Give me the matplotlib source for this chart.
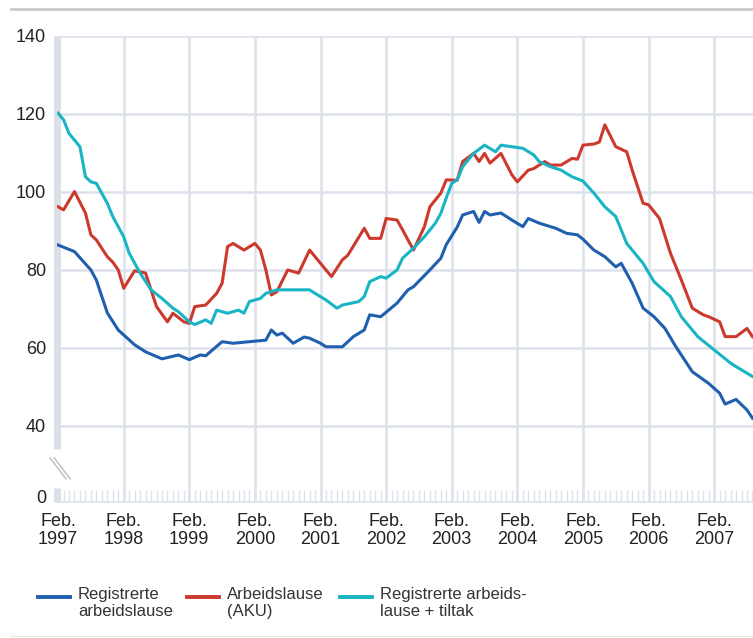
import matplotlib
matplotlib.use("Agg")
import matplotlib.pyplot as plt
from matplotlib.lines import Line2D

plt.rcParams['font.family'] = ['Liberation Sans', 'DejaVu Sans']

# months counted from Feb. 1997
years = list(range(1997, 2008))
tick_labels = ['Feb.\n%d' % y for y in years]

blue_m = [0, 3, 6, 7, 9, 11, 14, 16, 19, 22, 24, 26, 27, 30, 32, 35, 38, 39, 40, 41,
          43, 45, 46, 48, 49, 52, 54, 56, 57, 59, 62, 64, 65, 68, 70, 71, 73, 74, 76, 77,
          78, 79, 81, 83, 85, 86, 88, 91, 93, 95, 96, 98, 100, 102, 103, 105, 107, 109, 111, 113,
          116, 119, 121, 122, 124, 126, 127]
blue_v = [86.4, 84.7, 80, 77.4, 69, 64.6, 60.8, 59, 57.2, 58.2, 57, 58.2, 58, 61.6, 61.2, 61.6, 62, 64.6, 63.3, 63.8,
          61.2, 62.8, 62.5, 61.2, 60.3, 60.3, 62.9, 64.6, 68.5, 68, 71.5, 74.9, 75.7, 80, 83, 86.5, 91, 94.1, 95, 92.2,
          95, 94.1, 94.6, 92.8, 91.1, 93.2, 92, 90.7, 89.4, 89, 87.9, 85.1, 83.4, 80.8, 81.7, 76.6, 70.2, 68, 65, 60.3,
          53.9, 50.9, 48.4, 45.6, 46.8, 44.1, 42]

red_m = [0, 1, 3, 5, 6, 7, 9, 10, 11, 12, 14, 16, 17, 18, 20, 21, 23, 24, 25, 27,
         29, 30, 31, 32, 34, 36, 37, 38, 39, 40, 42, 44, 46, 48, 50, 52, 53, 56, 57, 59,
         60, 62, 63, 65, 67, 68, 70, 71, 73, 74, 76, 77, 78, 79, 81, 83, 84, 86, 87, 89,
         90, 92, 94, 95, 96, 98, 99, 100, 102, 104, 105, 107, 108, 110, 112, 114, 116, 118, 119, 121,
         122, 124, 126, 127]
red_v = [96.2, 95.4, 100.1, 94.6, 89, 87.7, 83.4, 82, 80, 75.3, 79.8, 79.2, 74.9, 70.6, 66.7, 68.9, 66.7, 66.3, 70.6, 71,
         74, 76.6, 86, 86.8, 85.1, 86.8, 85.1, 80, 73.6, 74.4, 80, 79.2, 85.1, 81.7, 78.3, 82.6, 83.8, 90.7, 88.1, 88.1,
         93.2, 92.8, 90.3, 85.1, 91.1, 96.2, 99.7, 103.1, 103, 107.8, 109.9, 107.8, 109.9, 107.4, 109.9, 104.4, 102.6, 105.6, 106, 107.8,
         106.9, 106.9, 108.6, 108.4, 112, 112.3, 112.8, 117.2, 111.6, 110.3, 105.6, 97.1, 96.7, 93.2, 84.3, 77.4, 70.2, 68.5, 68, 66.7,
         62.9, 62.9, 65, 62.9]

cyan_m = [0, 1, 2, 4, 5, 6, 7, 9, 10, 12, 13, 15, 17, 19, 21, 22, 24, 25, 27, 28,
          29, 31, 33, 34, 35, 37, 38, 40, 43, 46, 47, 49, 51, 52, 55, 56, 57, 59, 60, 62,
          63, 65, 67, 69, 70, 71, 72, 73, 74, 76, 78, 80, 81, 83, 85, 87, 88, 90, 92, 94,
          96, 98, 100, 102, 104, 107, 109, 112, 114, 117, 120, 123, 124, 127]
cyan_v = [120.2, 118.5, 115, 111.6, 103.9, 102.6, 102.2, 97.1, 93.7, 88.5, 84.3, 79.2, 74.9, 72.7, 70.2, 69.3, 66.7, 66, 67.2, 66.3,
          69.7, 68.9, 69.7, 68.9, 71.9, 72.7, 74, 74.9, 74.9, 74.9, 74, 72.3, 70.2, 71, 71.9, 73.2, 77, 78.3, 77.9, 80,
          83, 85.6, 88.5, 92, 94.5, 98.5, 102.2, 103.1, 106.5, 109.9, 112, 110.3, 112, 111.6, 111.2, 109.5, 107.8, 106.5, 105.6, 103.9,
          102.8, 99.7, 96.2, 93.7, 86.8, 81.7, 77, 73.2, 68, 62.9, 59.5, 56.1, 55.2, 52.7]

labels = ['Registrerte\narbeidslause', 'Arbeidslause\n(AKU)', 'Registrerte arbeids-\nlause + tiltak']
colors = ['#1f5fae', '#cc3a2e', '#19b5c4']
grid_c = '#dde1ea'

fig = plt.figure(figsize=(7.53, 6.38), dpi=100)
ax = fig.add_axes([57/753, 0.2132, 1 - 57/753, 0.9436 - 0.2132])

for m, v, c in zip([blue_m, red_m, cyan_m], [blue_v, red_v, cyan_v], colors):
    ax.plot(m, v, color=c, lw=2.2, solid_joinstyle='round', zorder=3)

ax.set_xlim(-0.2, 127.1)
ax.set_ylim(20.5, 140)

ax.set_yticks([22, 40, 60, 80, 100, 120, 140])
ax.set_yticklabels(['0', '40', '60', '80', '100', '120', '140'], fontsize=13, color='#222222')
ax.set_xticks([12 * i for i in range(len(years))])
ax.set_xticklabels(tick_labels, fontsize=13, color='#222222', linespacing=1.05)
ax.set_xticks(range(0, 128), minor=True)

ax.tick_params(axis='y', length=0, pad=8)
ax.tick_params(axis='x', which='major', direction='in', length=9, width=1, color=grid_c, pad=8)
ax.tick_params(axis='x', which='minor', direction='in', length=9, width=1, color=grid_c)

for y in [40, 60, 80, 100, 120, 140]:
    ax.axhline(y, color=grid_c, lw=1.8, zorder=1)
for x in range(12, 128, 12):
    ax.axvline(x, color=grid_c, lw=1.8, zorder=1)

for s in ['top', 'right', 'left']:
    ax.spines[s].set_visible(False)
ax.spines['bottom'].set_color(grid_c)
ax.spines['bottom'].set_linewidth(1.2)

# left axis bar with break
yt = ax.get_yaxis_transform()
ax.plot([0, 0], [34, 140], color='#dbe0e8', lw=5, transform=yt, clip_on=False, solid_capstyle='butt', zorder=2)
ax.plot([0, 0], [20.5, 24.0], color='#dbe0e8', lw=5, transform=yt, clip_on=False, solid_capstyle='butt', zorder=2)
for off in [0, 0.006]:
    ax.plot([-0.010 + off, 0.013 + off], [31.8, 26.4], color='#b8bcc4', lw=1, transform=yt, clip_on=False)

# frame lines
fig.add_artist(Line2D([11/753, 1], [1 - 9/638, 1 - 9/638], color='#c4c4c4', lw=1.8))
fig.add_artist(Line2D([10/753, 1], [1 - 636/638, 1 - 636/638], color='#ebebeb', lw=1))

# legend
hx = [38, 187, 340]
for x0, c, lab in zip(hx, colors, labels):
    fig.add_artist(Line2D([x0/753, (x0 + 32)/753], [1 - 597/638, 1 - 597/638], color=c, lw=2.8))
    fig.text((x0 + 40)/753, 1 - 587/638, lab, fontsize=12, color='#333333', va='top', ha='left', linespacing=1.2)

fig.savefig('out.png', dpi=100)
